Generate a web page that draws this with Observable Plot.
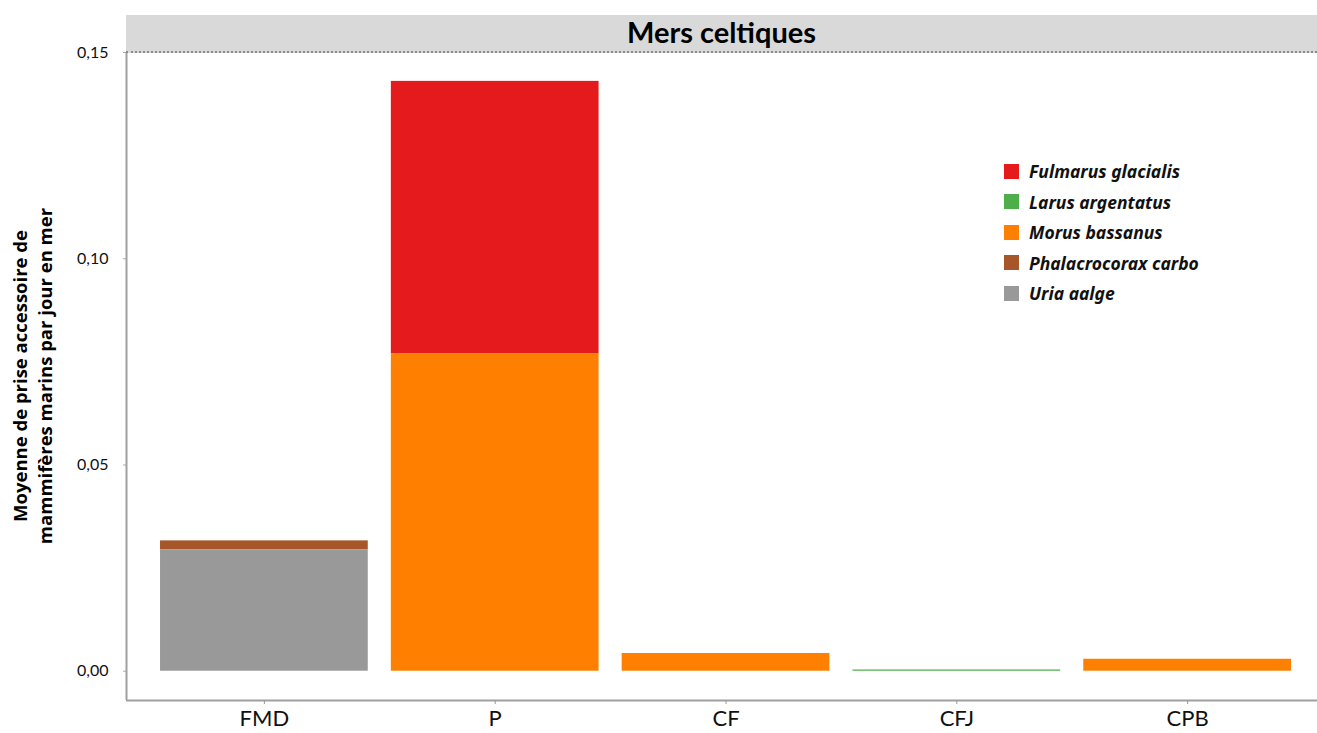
<!DOCTYPE html>
<html>
<head>
<meta charset="utf-8">
<script src="https://cdn.jsdelivr.net/npm/d3@7"></script>
<script src="https://cdn.jsdelivr.net/npm/@observablehq/plot@0.6"></script>
<style>
  html, body { margin: 0; padding: 0; background: #fff; }
  #wrap { position: relative; width: 1317px; height: 733px; overflow: hidden; }
  #strip { position: absolute; left: 126px; top: 15px; width: 1191px; height: 36px;
    background: #d9d9d9; border-bottom: 2px dotted #8a8a8a; text-align: center;
    font-family: Lato, "Open Sans", sans-serif; font-weight: bold; font-size: 29px; line-height: 33px; color: #000; }
  #ylab { position: absolute; left: -218px; top: 351px; width: 500px; height: 50px;
    transform: rotate(-90deg); transform-origin: 250px 25px; text-align: center;
    font-family: "Open Sans", sans-serif; font-weight: bold; font-size: 18.5px; line-height: 25px; color: #000; }
  #legend { position: absolute; left: 1004px; top: 156px; font-family: "Noto Sans", "Open Sans", sans-serif;
    font-weight: bold; font-style: italic; font-size: 17.5px; color: #111; }
  .row { height: 30.5px; display: flex; align-items: center; }
  .sw { width: 15px; height: 15px; margin-right: 10px; }
  svg { position: absolute; left: 0; top: 0; }
</style>
</head>
<body>
<div id="wrap">
  <div id="strip">Mers celtiques</div>
  <div id="ylab">Moyenne de prise accessoire de<br>mammifères marins par jour en mer</div>
  <div id="legend"></div>
</div>
<script>
const sites = ["FMD", "P", "CF", "CFJ", "CPB"];
const species = ["Fulmarus glacialis", "Larus argentatus", "Morus bassanus", "Phalacrocorax carbo", "Uria aalge"];
const colors = ["#e41a1c", "#4daf4a", "#ff7f00", "#a65628", "#999999"];
const fulmarus = [0, 0.0661, 0, 0, 0];
const larus = [0, 0, 0, 0.0003, 0];
const morus = [0, 0.0769, 0.0043, 0, 0.0029];
const phalacrocorax = [0.0022, 0, 0, 0, 0];
const uria = [0.0294, 0, 0, 0, 0];
const yTicks = [0, 0.05, 0.10, 0.15];
const yTickLabels = ["0,00", "0,05", "0,10", "0,15"];
const stackOrder = ["Uria aalge", "Phalacrocorax carbo", "Morus bassanus", "Larus argentatus", "Fulmarus glacialis"];

const series = [fulmarus, larus, morus, phalacrocorax, uria];
const data = [];
species.forEach((sp, j) => sites.forEach((s, i) => {
  if (series[j][i] > 0) data.push({site: s, species: sp, value: series[j][i]});
}));

const yMin = -0.0071;
const chart = Plot.plot({
  width: 1317,
  height: 733,
  marginTop: 52,
  marginBottom: 33,
  marginLeft: 126,
  marginRight: 0,
  style: {fontFamily: "Lato, 'Open Sans', sans-serif", background: "transparent"},
  x: {domain: sites, paddingInner: 0.1, paddingOuter: 0.130, align: 0.567, round: false, label: null},
  y: {domain: [yMin, 0.15], label: null},
  color: {domain: species, range: colors},
  marks: [
    Plot.barY(data, {x: "site", y: "value", fill: "species", z: "species", order: stackOrder}),
    Plot.ruleY([yMin], {stroke: "#a0a0a0", strokeWidth: 2}),
    Plot.axisY({ticks: yTicks, tickFormat: (d) => yTickLabels[yTicks.indexOf(d)], tickSize: 3, tickPadding: 15,
      fontSize: 16, stroke: "#aaa", color: "#111", label: null}),
    Plot.axisX({tickSize: 4, tickPadding: 6, fontSize: 22, stroke: "#999", color: "#111", label: null})
  ]
});

// left axis line drawn with the chart's own y scale
const ys = chart.scale("y");
const yScale = d3.scaleLinear().domain(ys.domain).range(ys.range);
d3.select(chart).append("line")
  .attr("x1", 126.5).attr("x2", 126.5)
  .attr("y1", yScale(0.15)).attr("y2", yScale(yMin))
  .attr("stroke", "#a0a0a0").attr("stroke-width", 2);

const wrap = document.getElementById("wrap");
wrap.insertBefore(chart, wrap.firstChild);

const legend = document.getElementById("legend");
species.forEach((sp, j) => {
  const row = document.createElement("div");
  row.className = "row";
  row.innerHTML = `<div class="sw" style="background:${colors[j]}"></div><span>${sp}</span>`;
  legend.appendChild(row);
});
</script>
</body>
</html>
